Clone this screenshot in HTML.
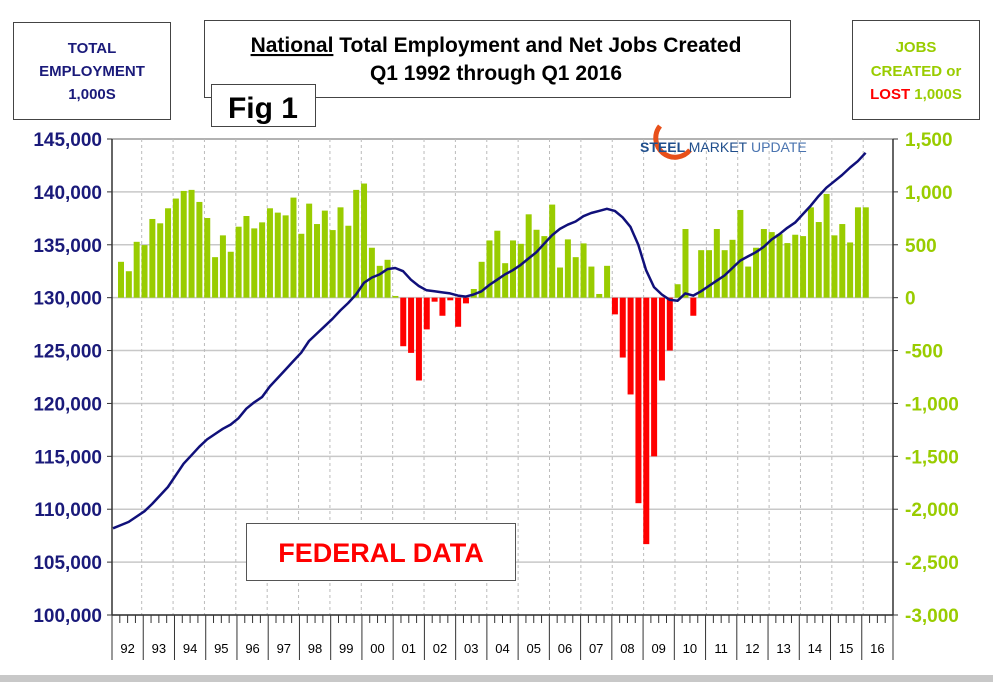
<!DOCTYPE html>
<html><head><meta charset="utf-8"><style>
body{margin:0;background:#fff;font-family:"Liberation Sans",Arial,sans-serif;}
svg text{font-family:"Liberation Sans",Arial,sans-serif;}
</style></head><body>
<svg id="chart" width="993" height="682" viewBox="0 0 993 682" xmlns="http://www.w3.org/2000/svg">
<rect x="0" y="0" width="993" height="682" fill="#fff"/>
<rect x="0" y="675" width="993" height="7" fill="#c8c8c8"/>
<g id="grid"></g>
<g id="bars"></g>
<g id="line"></g>
<g id="axes"></g>
<g>
<rect x="13.5" y="22.5" width="157" height="97" fill="#fff" stroke="#444"/>
<text x="92" y="53" text-anchor="middle" font-size="15" font-weight="bold" fill="#1a1a7a">TOTAL</text>
<text x="92" y="76" text-anchor="middle" font-size="15" font-weight="bold" fill="#1a1a7a">EMPLOYMENT</text>
<text x="92" y="99" text-anchor="middle" font-size="15" font-weight="bold" fill="#1a1a7a">1,000S</text>
</g>
<g>
<rect x="204.5" y="20.5" width="586" height="77" fill="#fff" stroke="#444"/>
<text x="496" y="52" text-anchor="middle" font-size="21" font-weight="bold" fill="#000"><tspan text-decoration="underline">National</tspan> Total Employment and Net Jobs Created</text>
<text x="496" y="80" text-anchor="middle" font-size="21" font-weight="bold" fill="#000">Q1 1992 through Q1 2016</text>
</g>
<g>
<rect x="211.5" y="84.5" width="104" height="42" fill="#fff" stroke="#444"/>
<text x="263" y="118" text-anchor="middle" font-size="30" font-weight="bold" fill="#000">Fig 1</text>
</g>
<g>
<rect x="852.5" y="20.5" width="127" height="99" fill="#fff" stroke="#444"/>
<text x="916" y="52" text-anchor="middle" font-size="15" font-weight="bold" fill="#99cc00">JOBS</text>
<text x="916" y="76" text-anchor="middle" font-size="15" font-weight="bold" fill="#99cc00">CREATED or</text>
<text x="916" y="99" text-anchor="middle" font-size="15" font-weight="bold"><tspan fill="#ff0000">LOST</tspan><tspan fill="#99cc00"> 1,000S</tspan></text>
</g>
<g>
<path d="M660 126 A18 18 0 1 0 690 150" fill="none" stroke="#e8501a" stroke-width="5"/>
<text x="640" y="152" font-size="14" font-weight="bold" fill="#1f4e8c">STEEL <tspan font-weight="normal">MARKET</tspan> <tspan font-weight="normal" fill="#4a74b0">UPDATE</tspan></text>
</g>
<g>
<rect x="246.5" y="523.5" width="269" height="57" fill="#fff" stroke="#555"/>
<text x="381" y="562" text-anchor="middle" font-size="27" font-weight="bold" fill="#ff0000">FEDERAL DATA</text>
</g>
</svg>
<script>
const quarters = ['Q1','Q2','Q3','Q4'];
const yearLabels = ['92','93','94','95','96','97','98','99','00','01','02','03','04','05','06','07','08','09','10','11','12','13','14','15','16'];
const leftTicks = [100000,105000,110000,115000,120000,125000,130000,135000,140000,145000];
const rightTicks = [-3000,-2500,-2000,-1500,-1000,-500,0,500,1000,1500];
const jobsCreated = [339,250,528,497,744,703,845,937,1009,1019,905,753,383,589,434,671,772,655,712,845,804,778,946,604,889,696,823,639,854,680,1019,1079,472,301,358,16,
-459,-522,-783,-300,-38,-171,-25,-275,-54,
82,339,541,633,326,541,509,788,642,582,880,285,551,383,513,294,35,301,
-158,-566,-915,-1943,-2330,-1500,-783,-500,
127,649,-171,
449,449,649,449,547,829,294,472,649,620,601,516,595,582,854,715,981,589,696,522,854,854];
const totalEmployment = [108.2,108.5,108.8,109.3,109.8,110.5,111.3,112.1,113.2,114.3,115.1,115.9,116.6,117.1,117.6,118.0,118.6,119.5,120.1,120.6,121.6,122.4,123.2,124.0,124.8,125.9,126.6,127.3,128.0,128.8,129.5,130.3,131.4,131.9,132.2,132.7,132.8,132.5,131.7,131.1,130.7,130.6,130.5,130.4,130.2,130.1,130.3,130.6,131.2,131.7,132.2,132.6,133.1,133.7,134.3,135.1,135.9,136.5,136.9,137.2,137.7,138.0,138.2,138.4,138.2,137.6,136.7,135.0,132.6,131.0,130.3,129.8,129.7,130.4,130.2,130.6,131.1,131.6,132.1,132.8,133.5,133.9,134.3,134.8,135.5,136.0,136.6,137.1,137.9,138.7,139.6,140.4,141.0,141.6,142.3,142.9,143.7];

const NS='http://www.w3.org/2000/svg';
const X0=112,X1=893,YT=139,YB=615,STEP=7.84;
function yLeft(v){return YB-(v-100000)/45000*(YB-YT);}
function yRight(v){return YB-(v+3000)/4500*(YB-YT);}
function xBar(i){return 121+i*STEP;}
function xLine(i){return 113+i*STEP;}
function mk(tag,attrs,parent){const e=document.createElementNS(NS,tag);for(const k in attrs)e.setAttribute(k,attrs[k]);parent.appendChild(e);return e;}
const grid=document.getElementById('grid'),bars=document.getElementById('bars'),line=document.getElementById('line'),axes=document.getElementById('axes');

leftTicks.forEach(v=>{
  const y=yLeft(v);
  const g=mk('line',{x1:X0,x2:X1,y1:y,y2:y,stroke:v===145000?'#999':'#c8c8c8','stroke-width':1.5},grid);
  
  
  const t=mk('text',{x:102,y:y+7,'text-anchor':'end','font-size':19,'font-weight':'bold',fill:'#1a1a7a'},axes);
  t.textContent=v.toLocaleString('en-US');
  
  
  mk('line',{x1:X0-5,x2:X0,y1:y,y2:y,stroke:'#333'},axes);
});
rightTicks.forEach(v=>{
  const y=yRight(v);
  const t=mk('text',{x:905,y:y+7,'font-size':19,'font-weight':'bold',fill:'#99cc00'},axes);
  t.textContent=v.toLocaleString('en-US');
  
  
  mk('line',{x1:X1,x2:X1+5,y1:y,y2:y,stroke:'#333'},axes);
});
yearLabels.forEach((lab,k)=>{
  const xb=141.7+(k-1)*31.37;
  if(k>0){const d=mk('line',{x1:xb,x2:xb,y1:YT,y2:YB,stroke:'#bbb','stroke-dasharray':'3,3'},grid);
  
  }
  const xs=X0+k*31.24;
  mk('line',{x1:xs,x2:xs,y1:YB,y2:660,stroke:'#333'},axes);
  for(let q=1;q<4;q++){const xt=xs+q*7.81;mk('line',{x1:xt,x2:xt,y1:YB,y2:YB+8,stroke:'#333'},axes);}
  const t=mk('text',{x:xs+15.6,y:653,'text-anchor':'middle','font-size':13,fill:'#000'},axes);
  t.textContent=lab;
  
  
});
mk('line',{x1:X1,x2:X1,y1:660,y2:YB,stroke:'#333'},axes);

const z=yRight(0);
jobsCreated.forEach((v,i)=>{
  const y=yRight(v);
  const r=mk('rect',{x:xBar(i)-3,y:Math.min(y,z),width:6,height:Math.max(Math.abs(z-y),1),fill:v>=0?'#99cc00':'#ff0000'},bars);
  
  
});
const pts=totalEmployment.map((v,i)=>xLine(i).toFixed(1)+','+yLeft(v*1000).toFixed(1)).join(' ');
const pl=mk('polyline',{points:pts,fill:'none',stroke:'#10107a','stroke-width':2.5,'stroke-linejoin':'round'},line);



mk('line',{x1:X0,x2:X0,y1:YT,y2:YB,stroke:'#333','stroke-width':1.5},axes);
mk('line',{x1:X1,x2:X1,y1:YT,y2:YB,stroke:'#333','stroke-width':1.5},axes);
mk('line',{x1:X0,x2:X1,y1:YB,y2:YB,stroke:'#333','stroke-width':1.5},axes);
</script>
</body></html>
